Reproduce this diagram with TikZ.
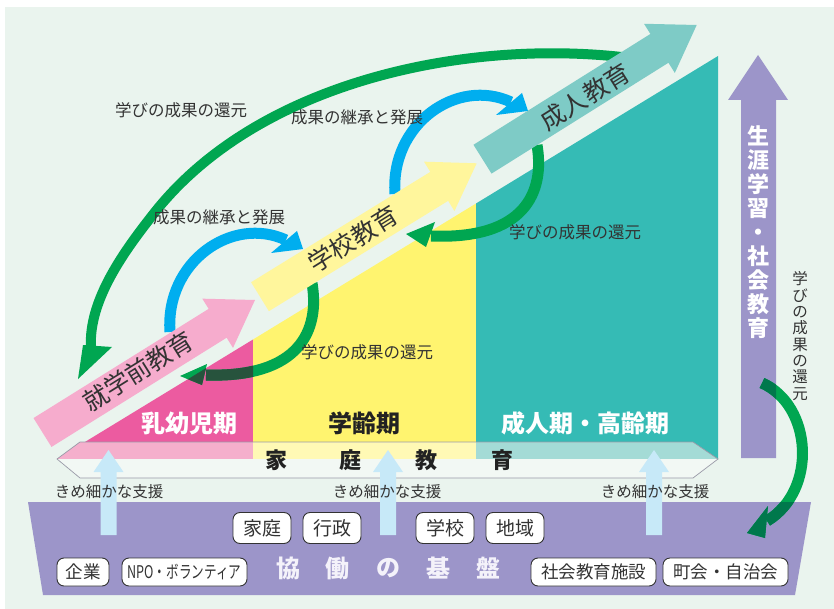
\documentclass[tikz,border=0pt]{standalone}
\usepackage{fontspec}
\usetikzlibrary{calc}
\newfontfamily\jp{Noto Sans CJK JP}
\definecolor{bgmint}{HTML}{EAF4EE}
\definecolor{pinkS}{HTML}{EC5BA0}
\definecolor{pinkL}{HTML}{F5AFCC}
\definecolor{yelS}{HTML}{FFF46F}
\definecolor{yelL}{HTML}{FFF9B5}
\definecolor{tealS}{HTML}{35BBB5}
\definecolor{tealL}{HTML}{A4DBD6}
\definecolor{pinkA}{HTML}{F6ACCD}
\definecolor{yelA}{HTML}{FFF69C}
\definecolor{tealA}{HTML}{7ECBC6}
\definecolor{grn}{HTML}{00A651}
\definecolor{grnOnPink}{HTML}{27533D}
\definecolor{grnOnPurp}{HTML}{00784C}
\definecolor{blu}{HTML}{00AEEF}
\definecolor{purp}{HTML}{9C95C9}
\definecolor{lblue}{HTML}{C7E9F8}
\definecolor{txt}{HTML}{333333}
\definecolor{txtdark}{HTML}{222222}
\definecolor{bandlow}{HTML}{F2F8F4}
\definecolor{bandline}{HTML}{9A9AA8}
\definecolor{boxline}{HTML}{333333}
\definecolor{kyodotext}{HTML}{F4F2FA}
\newcommand\bannerArrow[3]{%
  \coordinate (hh) at ($(#2)!44pt!(#1)$);
  \fill[#3] ($(#1)!17pt!90:(#2)$) -- ($(hh)!17pt!90:(#2)$) -- ($(hh)!29pt!90:(#2)$) -- (#2)
    -- ($(hh)!29pt!-90:(#2)$) -- ($(hh)!17pt!-90:(#2)$) -- ($(#1)!17pt!-90:(#2)$) -- cycle;}
\newcommand\greenOne[1]{%
  \draw[line width=11pt, draw=#1] (g1S) .. controls (320,330) and (300,378) .. (g1E);
  \fill[#1] (207,364) -- (202,385) -- (180,376) -- cycle;}
\newcommand\greenRight[1]{%
  \draw[line width=11pt, draw=#1] (rS) .. controls (812,405) and (818,490) .. (rE);
  \fill[#1] (768,506) -- (765,538) -- (747,533) -- cycle;}
\begin{document}
\begin{tikzpicture}[x=1pt,y=-1pt,
  lbl/.style={font=\jp\fontsize{16.5}{18}\selectfont, text=txt, inner sep=0},
  stage/.style={font=\jp\bfseries\fontsize{24}{26}\selectfont, inner sep=0},
  bandtxt/.style={font=\jp\bfseries\fontsize{22}{24}\selectfont, text=txtdark, inner sep=0},
  banner/.style={font=\jp\fontsize{25}{27}\selectfont, text=txt, rotate=32, inner sep=0},
  orgbox/.style={draw=boxline, line width=0.9pt, fill=white, rounded corners=7pt, inner sep=0, text=txt},
  topbox/.style={orgbox, minimum width=58pt, minimum height=31pt, font=\jp\fontsize{19}{20}\selectfont},
  botbox/.style={orgbox, minimum width=125pt, minimum height=28pt, font=\jp\fontsize{17.5}{19}\selectfont},
  kyodo/.style={font=\jp\bfseries\fontsize{24}{26}\selectfont, text=kyodotext, inner sep=0},
  support/.style={font=\jp\fontsize{15.5}{17}\selectfont, text=txt, inner sep=0},
  arcG/.style={line width=11pt, draw=grn},
  arcB/.style={line width=11pt, draw=blu},
  supportarrow/.style={fill=lblue},
]
\useasboundingbox (0,0) rectangle (834,609);
\fill[white] (0,0) rectangle (834,609);
\fill[bgmint] (5,7) rectangle (834,609);

% staircase regions
\fill[pinkS] (57,459) -- (253,339.5) -- (253,459) -- cycle;
\fill[yelS] (253,339.5) -- (476,203.5) -- (476,459) -- (253,459) -- cycle;
\fill[tealS] (476,203.5) -- (718,56) -- (718,459) -- (476,459) -- cycle;

% family education band
\fill[pinkL] (57,459) -- (80,442) -- (253,442) -- (253,459) -- cycle;
\fill[yelL] (253,442) -- (476,442) -- (476,459) -- (253,459) -- cycle;
\fill[tealL] (476,442) -- (693,442) -- (718,459) -- (476,459) -- cycle;
\fill[bandlow] (57,459) -- (718,459) -- (693,478) -- (80,478) -- cycle;
\draw[bandline, line width=0.7pt] (57,459) -- (80,442) -- (693,442) -- (718,459) -- (693,478) -- (80,478) -- cycle;

\node[stage, text=white] (s1) at (189,423) {乳幼児期};
\node[stage, text=txtdark] (s2) at (364,423) {学齢期};
\node[stage, text=white] (s3) at (585,423) {成人期・高齢期};

\node[bandtxt] (k1) at (276,460) {家};
\node[bandtxt] (k2) at (350,460) {庭};
\node[bandtxt] (k3) at (426,460) {教};
\node[bandtxt] (k4) at (502,460) {育};

% foundation
\fill[purp] (28,502) -- (811,502) -- (795,595) -- (43,595) -- cycle;

% support arrows
\foreach \cx in {108.5, 388, 654}{
  \fill[supportarrow] (\cx-8,535) -- (\cx-8,472) -- (\cx-15,472) -- (\cx,450) -- (\cx+15,472) -- (\cx+8,472) -- (\cx+8,535) -- cycle;
}
\node[support] (sp1) at (109,492) {きめ細かな支援};
\node[support] (sp2) at (387,492) {きめ細かな支援};
\node[support] (sp3) at (655,492) {きめ細かな支援};

\node[topbox] (b1) at (262,528) {家庭};
\node[topbox] (b2) at (332,528) {行政};
\node[topbox] (b3) at (445,528) {学校};
\node[topbox] (b4) at (515,528) {地域};
\node[botbox, minimum width=52pt] (b5) at (83,572) {企業};
\node[botbox] (b6) at (184.5,572) {\scalebox{0.72}[1]{NPO・ボランティア}};
\node[botbox] (b7) at (593.5,572) {社会教育施設};
\node[botbox] (b8) at (725.5,572) {町会・自治会};

\node[kyodo] (f1) at (288,568) {協};
\node[kyodo] (f2) at (337,568) {働};
\node[kyodo] (f3) at (388,568) {の};
\node[kyodo] (f4) at (438,568) {基};
\node[kyodo] (f5) at (488,568) {盤};

% lifelong learning arrow
\fill[purp] (741,458) -- (741,100) -- (728,100) -- (758,55) -- (788,100) -- (776,100) -- (776,458) -- cycle;
\node[font=\jp\bfseries\fontsize{22}{24}\selectfont, text=white, align=center, inner sep=0] (ll) at (758,232) {生\\涯\\学\\習\\・\\社\\会\\教\\育};
\node[font=\jp\fontsize{15.5}{16.3}\selectfont, text=txt, align=center, inner sep=0] (lr) at (800,336) {学\\び\\の\\成\\果\\の\\還\\元};

% curved arrows
\coordinate (bigS) at (630,58);
\coordinate (bigM) at (155,212);
\coordinate (bigE) at (91,348);
\draw[arcG, line width=10pt] (bigS) .. controls (470,38) and (260,80) .. (bigM) .. controls (125,250) and (88,300) .. (bigE);
\fill[grn] (83,345) -- (112,347) -- (78,379) -- cycle;

\coordinate (g1S) at (312,283);
\coordinate (g1E) at (206,375);
\greenOne{grn}
\begin{scope}
  \clip (57,459) -- (253,339.5) -- (253,459) -- cycle;
  \greenOne{grnOnPink}
\end{scope}

\coordinate (g2S) at (537,145);
\coordinate (g2E) at (431,236);
\draw[arcG] (g2S) .. controls (545,192) and (525,240) .. (g2E);
\fill[grn] (435,222) -- (426,247) -- (406,234) -- cycle;

\coordinate (rS) at (762,383);
\coordinate (rE) at (767,521);
\greenRight{grn}
\begin{scope}
  \clip (741,458) rectangle (776,100);
  \greenRight{grnOnPurp}
\end{scope}
\begin{scope}
  \clip (28,502) -- (811,502) -- (795,595) -- (43,595) -- cycle;
  \greenRight{grnOnPurp}
\end{scope}

\coordinate (b1S) at (170,332);
\coordinate (b1E) at (286,240);
\draw[arcB] (b1S) .. controls (165,262) and (232,215) .. (b1E);
\fill[blu] (297,231) -- (303,249) -- (271,253) -- cycle;
\coordinate (b2S) at (395,194);
\coordinate (b2E) at (511,102);
\draw[arcB] (b2S) .. controls (390,124) and (457,77) .. (b2E);
\fill[blu] (522,93) -- (528,111) -- (496,115) -- cycle;

% banner arrows
\coordinate (pB) at (42.5,432.5); \coordinate (pT) at (255,300);
\coordinate (yB) at (260,296.7); \coordinate (yT) at (476.7,163.3);
\coordinate (tB) at (482.5,159.2); \coordinate (tT) at (696.7,25);
\bannerArrow{pB}{pT}{pinkA}
\bannerArrow{yB}{yT}{yelA}
\bannerArrow{tB}{tT}{tealA}
\node[banner] (e1) at (138,371) {就学前教育};
\node[banner] (e2) at (353,239) {学校教育};
\node[banner] (e3) at (585,97) {成人教育};

% labels
\node[lbl] (l1) at (181,110) {学びの成果の還元};
\node[lbl] (l2) at (357,117) {成果の継承と発展};
\node[lbl] (l3) at (219,217) {成果の継承と発展};
\node[lbl] (l4) at (367,352) {学びの成果の還元};
\node[lbl] (l5) at (575,232) {学びの成果の還元};
\end{tikzpicture}
\end{document}
